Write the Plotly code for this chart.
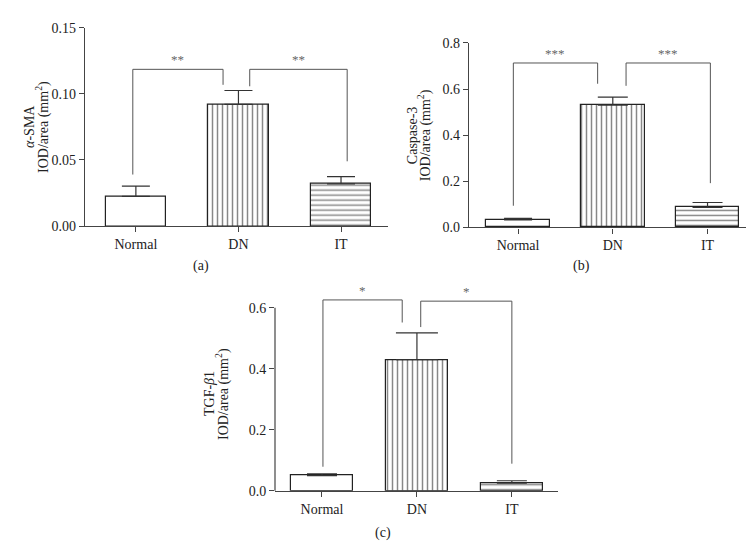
import plotly.graph_objects as go

categories = ["Normal", "DN", "IT"]

# alpha-SMA, panel (a)
sma_mean = [0.0225, 0.092, 0.032]
sma_err = [0.0078, 0.0105, 0.0055]

# Caspase-3, panel (b)
casp_mean = [0.033, 0.530, 0.087]
casp_err = [0.006, 0.035, 0.021]

# TGF-beta1, panel (c)
tgf_mean = [0.050, 0.430, 0.0255]
tgf_err = [0.006, 0.088, 0.0075]

# significance brackets: (left x, right x, left foot, top, right foot, stars)
sma_brackets = [(-0.03, 0.85, 0.039, 0.1185, 0.1068, "**"),
                (1.11, 2.06, 0.1057, 0.1185, 0.049, "**")]
casp_brackets = [(-0.05, 0.84, 0.094, 0.713, 0.623, "***"),
                 (1.14, 2.03, 0.614, 0.713, 0.192, "***")]
tgf_brackets = [(0.01, 0.845, 0.079, 0.626, 0.552, "*"),
                (1.04, 2.0, 0.537, 0.622, 0.089, "*")]

W, H = 754, 557
FONT = "Liberation Serif"
AXIS_COLOR = "#444"
TEXT_COLOR = "#222"
PATTERNS = {"Normal": "", "DN": "|", "IT": "-"}

panels = [
    dict(mean=sma_mean, err=sma_err, brackets=sma_brackets,
         xdom=[77 / W, 380 / W], ydom=[1 - 217 / H, 1 - 13 / H],
         xrange=[-0.496, 2.458], yrange=[0, 0.15], yline=0.15,
         tickvals=[0, 0.05, 0.10, 0.15], fmt=".2f", barw=0.59, capw=[14, 14, 14],
         title=["<i>α</i>-SMA", "IOD/area (mm<sup>2</sup>)"], tx=[22, 35],
         label="(a)", lpos=(193, 258)),
    dict(mean=casp_mean, err=casp_err, brackets=casp_brackets,
         xdom=[461 / W, 745 / W], ydom=[1 - 218.3 / H, 1 - 28.7 / H],
         xrange=[-0.518, 2.48], yrange=[0, 0.8], yline=0.8,
         tickvals=[0, 0.2, 0.4, 0.6, 0.8], fmt=".1f", barw=0.67, capw=[14, 15, 15],
         title=["Caspase-3", "IOD/area (mm<sup>2</sup>)"], tx=[404, 416],
         label="(b)", lpos=(573, 258)),
    dict(mean=tgf_mean, err=tgf_err, brackets=tgf_brackets,
         xdom=[267 / W, 550 / W], ydom=[1 - 489 / H, 1 - 290 / H],
         xrange=[-0.495, 2.486], yrange=[0, 0.635], yline=0.6,
         tickvals=[0, 0.2, 0.4, 0.6], fmt=".1f", barw=0.66, capw=[15, 21, 15],
         title=["TGF-<i>β</i>1", "IOD/area (mm<sup>2</sup>)"], tx=[201, 214],
         label="(c)", lpos=(375, 532)),
]

fig = go.Figure()
shapes = []
annotations = []

for i, p in enumerate(panels, start=1):
    xa = "x" if i == 1 else f"x{i}"
    ya = "y" if i == 1 else f"y{i}"

    for j, cat in enumerate(categories):
        fig.add_trace(go.Bar(
            x=[cat], y=[p["mean"][j]], xaxis=xa, yaxis=ya,
            width=p["barw"], showlegend=False,
            marker=dict(color="white",
                        line=dict(color="#222", width=1.2),
                        pattern=dict(shape=PATTERNS[cat], size=5, solidity=0.3,
                                     fgcolor="#111", bgcolor="white")),
            error_y=dict(type="data", array=[p["err"][j]], arrayminus=[0],
                         symmetric=False, color="#333", thickness=1.2,
                         width=p["capw"][j]),
        ))

    for (x0, x1, f0, top, f1, stars) in p["brackets"]:
        line = dict(color="#555", width=1)
        shapes.append(dict(type="path", xref=xa, yref=ya, line=line,
                           path=f"M {x0} {f0} L {x0} {top} L {x1} {top} L {x1} {f1}"))
        annotations.append(dict(x=(x0 + x1) / 2, y=top, xref=xa, yref=ya,
                                text=stars, showarrow=False, yanchor="bottom",
                                font=dict(size=13, color="#666", family=FONT)))

    # y title as two rotated lines
    for k, t in enumerate(p["title"]):
        annotations.append(dict(x=p["tx"][k] / W, y=0.5, xref="paper",
                                yref=f"{ya} domain", text=t, textangle=-90,
                                showarrow=False, xanchor="center", yanchor="middle",
                                font=dict(size=14, color=TEXT_COLOR, family=FONT)))

    annotations.append(dict(x=p["lpos"][0] / W, y=1 - p["lpos"][1] / H,
                            xref="paper", yref="paper", text=p["label"],
                            showarrow=False, xanchor="center", yanchor="middle",
                            font=dict(size=14, color=TEXT_COLOR, family=FONT)))

    full_line = p["yline"] == p["yrange"][1]
    if not full_line:
        # axis line stops at the last tick, brackets rise above it
        y0, y1 = p["ydom"]
        ytop = y0 + (p["yline"] - p["yrange"][0]) / (p["yrange"][1] - p["yrange"][0]) * (y1 - y0)
        shapes.append(dict(type="line", xref="paper", yref="paper",
                           x0=p["xdom"][0], x1=p["xdom"][0], y0=y0, y1=ytop,
                           line=dict(color=AXIS_COLOR, width=1.2)))

    axis_font = dict(size=14, color=TEXT_COLOR, family=FONT)
    fig.update_layout(**{
        ("xaxis" if i == 1 else f"xaxis{i}"): dict(
            domain=p["xdom"], anchor=ya, range=p["xrange"], type="category",
            categoryorder="array", categoryarray=categories,
            showline=True, linecolor=AXIS_COLOR, linewidth=1.2,
            ticks="outside", ticklen=5, tickcolor=AXIS_COLOR,
            showgrid=False, zeroline=False, tickfont=axis_font, fixedrange=True),
        ("yaxis" if i == 1 else f"yaxis{i}"): dict(
            domain=p["ydom"], anchor=xa, range=p["yrange"],
            tickvals=p["tickvals"], tickformat=p["fmt"],
            showline=full_line, linecolor=AXIS_COLOR, linewidth=1.2,
            ticks="outside", ticklen=5, tickcolor=AXIS_COLOR,
            showgrid=False, zeroline=False, tickfont=axis_font, fixedrange=True),
    })

fig.update_layout(
    width=W, height=H, autosize=False,
    margin=dict(l=0, r=0, t=0, b=0),
    paper_bgcolor="white", plot_bgcolor="white",
    barmode="overlay", bargap=0,
    font=dict(family=FONT, color=TEXT_COLOR),
    shapes=shapes, annotations=annotations,
)

fig.write_html("out.html")
